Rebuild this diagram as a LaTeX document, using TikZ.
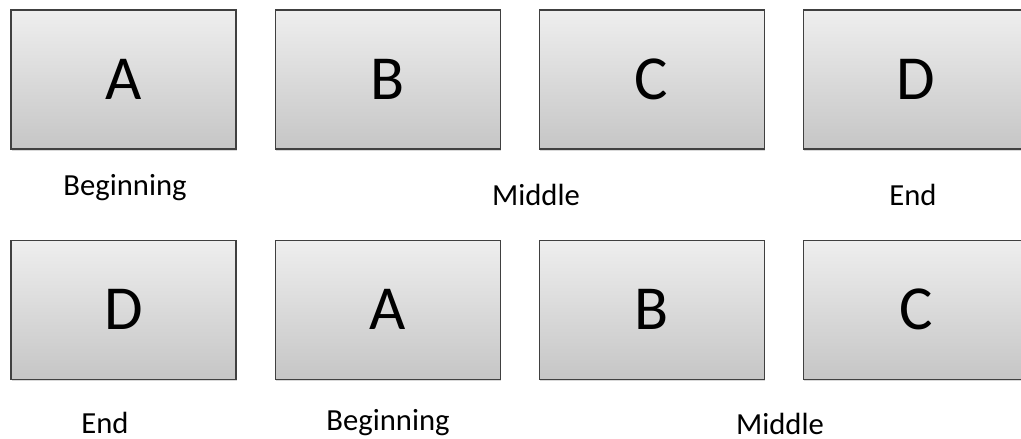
\documentclass[tikz,border=0pt]{standalone}
\usepackage{fontspec}
\setmainfont{Carlito}
\usetikzlibrary{positioning,shadows}
\tikzset{
  card/.style={rectangle, draw=black!75, line width=0.8pt,
               top color=gray!13, bottom color=gray!45,
               minimum width=168.75pt, minimum height=104.25pt, inner sep=0pt,
               font=\fontsize{47}{50}\selectfont,
               drop shadow={shadow xshift=0.8pt, shadow yshift=-1.2pt, opacity=0.3}},
  lbl/.style ={anchor=base, inner sep=0pt, font=\fontsize{23}{26}\selectfont},
}

\begin{document}
\begin{tikzpicture}[x=0.75pt, y=-0.75pt, node distance=28.5pt]
\useasboundingbox (0,0) rectangle (1021,439);

% first ordering
\node[card] (a1) at (123.5,79.5) {A};
\node[card, right=of a1] (b1) {B};
\node[card, right=of b1] (c1) {C};
\node[card, right=of c1] (d1) {D};

% rotated ordering
\node[card, below=67.5pt of a1] (d2) {D};
\node[card, right=of d2] (a2) {A};
\node[card, right=of a2] (b2) {B};
\node[card, right=of b2] (c2) {C};

\node[lbl] (beg1) at (125,195) {Beginning};
\node[lbl] (mid1) at (536,205) {Middle};
\node[lbl] (end1) at (913,205) {End};

\node[lbl] (end2) at (105,433) {End};
\node[lbl] (beg2) at (388,430) {Beginning};
\node[lbl] (mid2) at (780,434) {Middle};
\end{tikzpicture}
\end{document}
